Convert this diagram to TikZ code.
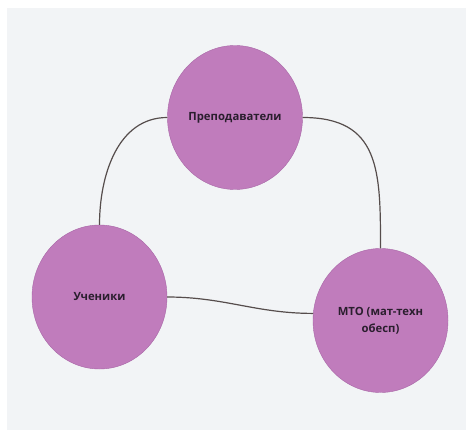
\documentclass[tikz,border=0pt]{standalone}
\usepackage{fontspec}
\setmainfont{Open Sans}
\usetikzlibrary{shapes.geometric}
\definecolor{page}{HTML}{F2F4F6}
\definecolor{bubble}{HTML}{C07CBC}
\definecolor{bubble_edge}{HTML}{A866A6}
\definecolor{link}{HTML}{564D4C}
\definecolor{label}{HTML}{2A1E2E}

\begin{document}
\begin{tikzpicture}[
    x=1pt, y=1pt,
    font=\bfseries\fontsize{11.3}{16.7}\selectfont,
    bubble/.style={
        ellipse,
        draw=bubble_edge,
        line width=0.4pt,
        fill=bubble,
        text=label,
        align=center,
        minimum width=135pt,
        minimum height=144pt,
        inner sep=0pt
    },
    link/.style={
        draw=link,
        line width=1.2pt
    }
]

% Page
\fill[white] (0,0) rectangle (468,437);
\fill[page] (7,7) rectangle (466,429);
\useasboundingbox (0,0) rectangle (468,437);

% Bubbles
\node[bubble] (P) at (235,319.5) {Преподаватели};
\node[bubble] (U) at (99.5,140) {Ученики};
\node[bubble] (M) at (380.5,116.5) {МТО (мат-техн\\обесп)};

% Links
\draw[link] (P.west) to[out=180, in=90] (U.north);
\draw[link] (P.east) to[out=0, in=90, looseness=1.3] (M.north);
\draw[link] (U.east) to[out=0, in=180] (M.174);

\end{tikzpicture}
\end{document}
